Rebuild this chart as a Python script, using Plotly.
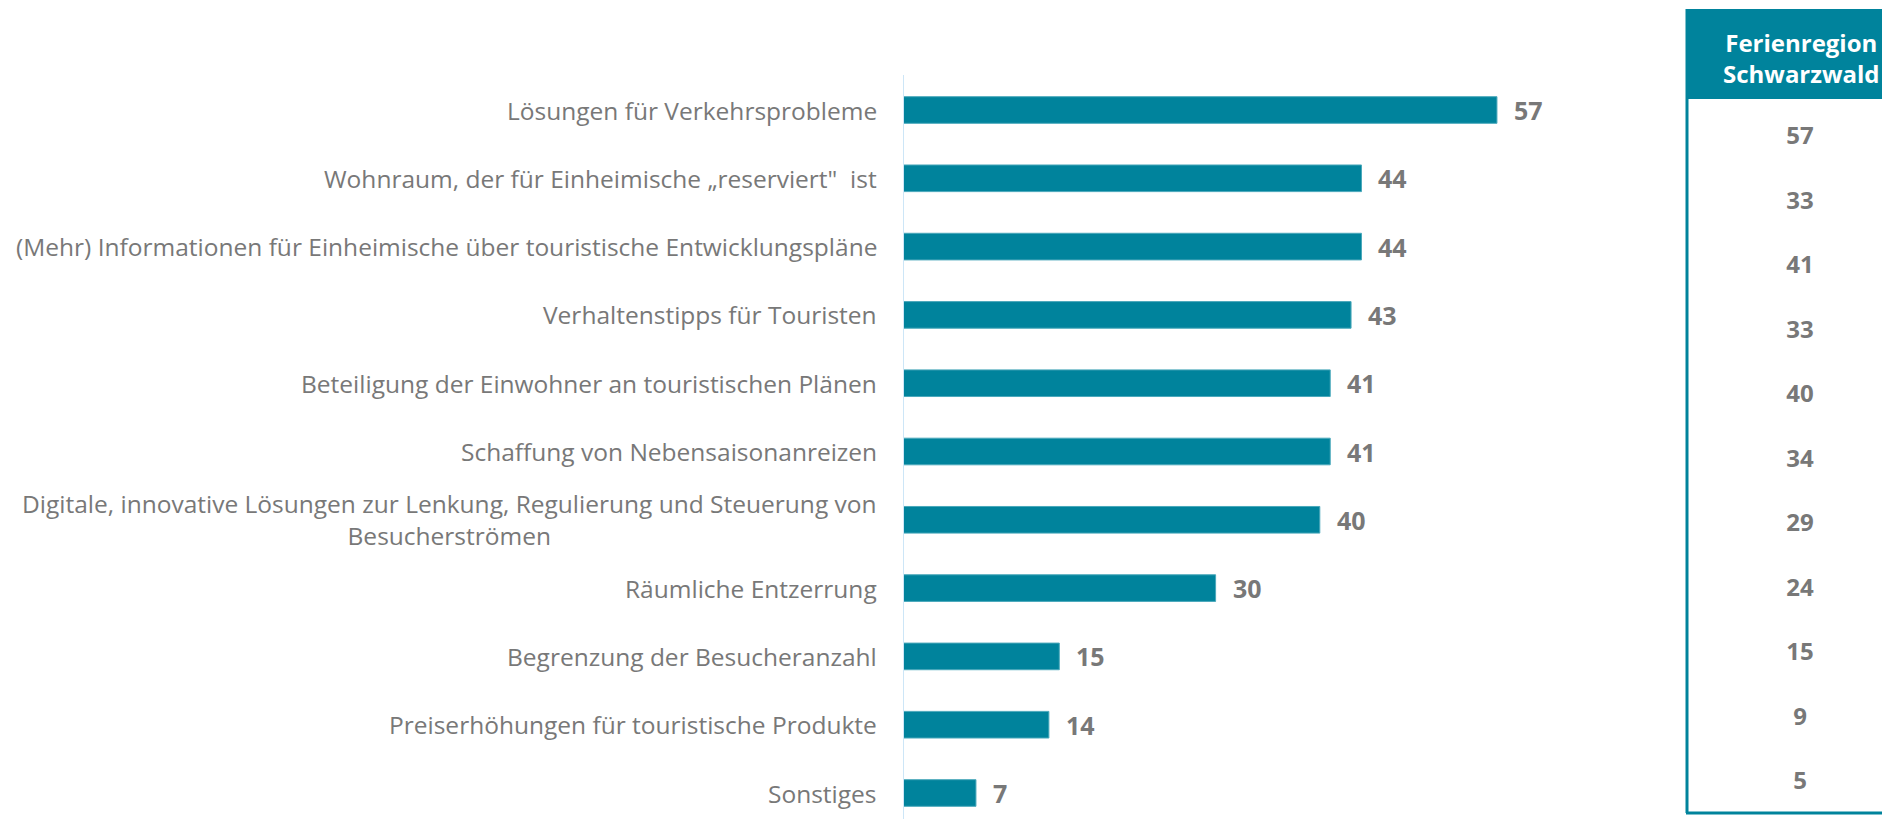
"""Horizontal bar chart with side box for Ferienregion Schwarzwald."""
import plotly.graph_objects as go

# page body has an 8px margin, so the figure is a bit smaller than the window
OFF = 8
W, H = 1890 - OFF, 819 - OFF
TEAL = "#00839c"
GRAY = "#787878"
FONT = "Open Sans"

categories = [
    "Lösungen für Verkehrsprobleme",
    "Wohnraum, der für Einheimische „reserviert\"  ist",
    "(Mehr) Informationen für Einheimische über touristische Entwicklungspläne",
    "Verhaltenstipps für Touristen",
    "Beteiligung der Einwohner an touristischen Plänen",
    "Schaffung von Nebensaisonanreizen",
    "Digitale, innovative Lösungen zur Lenkung, Regulierung und Steuerung von<br>Besucherströmen",
    "Räumliche Entzerrung",
    "Begrenzung der Besucheranzahl",
    "Preiserhöhungen für touristische Produkte",
    "Sonstiges",
]
values = [57, 44, 44, 43, 41, 41, 40, 30, 15, 14, 7]
schwarzwald = [57, 33, 41, 33, 40, 34, 29, 24, 15, 9, 5]
box_header = "Ferienregion<br>Schwarzwald"


def px_x(p):
    """window pixel -> paper x"""
    return (p - OFF) / W


def px_y(p):
    """window pixel -> paper y"""
    return 1 - (p - OFF) / H


fig = go.Figure()

fig.add_trace(
    go.Bar(
        x=values,
        y=categories,
        orientation="h",
        marker=dict(color=TEAL, line=dict(color="#4aa8bb", width=1)),
        width=0.39,
        hoverinfo="x+y",
    )
)

# values of the side box
idx = list(range(len(schwarzwald)))
fig.add_trace(
    go.Scatter(
        x=[0] * len(schwarzwald),
        y=idx,
        mode="text",
        text=[str(v) for v in schwarzwald],
        textfont=dict(family=FONT, size=24, color=GRAY, weight="bold"),
        xaxis="x2",
        yaxis="y2",
        hoverinfo="skip",
    )
)

# x: 0 at 903px, ~10.42 px per unit
x0_px, unit = 903, 10.42
x_right = 1640
row0, row_step = 110, 68.3
box_row0, box_step = 138, 64.5
fig.update_layout(
    width=W,
    height=H,
    margin=dict(l=0, r=0, t=0, b=0),
    plot_bgcolor="white",
    paper_bgcolor="white",
    showlegend=False,
    xaxis=dict(
        domain=[px_x(x0_px), px_x(x_right)],
        range=[0, (x_right - x0_px) / unit],
        visible=False,
    ),
    yaxis=dict(
        range=[(819 - row0) / row_step, -(row0 - OFF) / row_step],
        showticklabels=False,
        showgrid=False,
        zeroline=False,
    ),
    xaxis2=dict(domain=[px_x(1720), px_x(1880)], range=[-1, 1], visible=False),
    yaxis2=dict(
        anchor="x2",
        range=[(819 - box_row0) / box_step, -(box_row0 - OFF) / box_step],
        visible=False,
    ),
)

annotations = []
for cat, v in zip(categories, values):
    annotations.append(
        dict(
            x=0, y=cat, xref="x", yref="y",
            text=cat, showarrow=False, xanchor="right", align="center",
            xshift=-24,
            font=dict(family=FONT, size=24.5, color=GRAY),
        )
    )
    annotations.append(
        dict(
            x=v, y=cat, xref="x", yref="y",
            text=f"<b>{v}</b>", showarrow=False, xanchor="left", xshift=15,
            font=dict(family=FONT, size=25, color=GRAY),
        )
    )
annotations.append(
    dict(
        x=px_x(1801), y=px_y(58), xref="paper", yref="paper",
        xanchor="center", yanchor="middle",
        text=f"<b>{box_header}</b>", showarrow=False,
        font=dict(family=FONT, size=24, color="white"),
    )
)
fig.update_layout(annotations=annotations)

fig.update_layout(
    shapes=[
        # vertical axis line
        dict(type="line", xref="x", yref="paper", x0=0, x1=0,
             y0=px_y(75), y1=0, line=dict(color="#cde6f7", width=2)),
        # box header
        dict(type="rect", xref="paper", yref="paper",
             x0=px_x(1686), x1=1.02, y0=px_y(99), y1=px_y(9),
             fillcolor=TEAL, line=dict(width=0)),
        # box border
        dict(type="line", xref="paper", yref="paper",
             x0=px_x(1687), x1=px_x(1687), y0=px_y(9), y1=px_y(813),
             line=dict(color=TEAL, width=3)),
        dict(type="line", xref="paper", yref="paper",
             x0=px_x(1686), x1=1.02, y0=px_y(813), y1=px_y(813),
             line=dict(color=TEAL, width=3)),
    ]
)

fig.write_html("out.html")
